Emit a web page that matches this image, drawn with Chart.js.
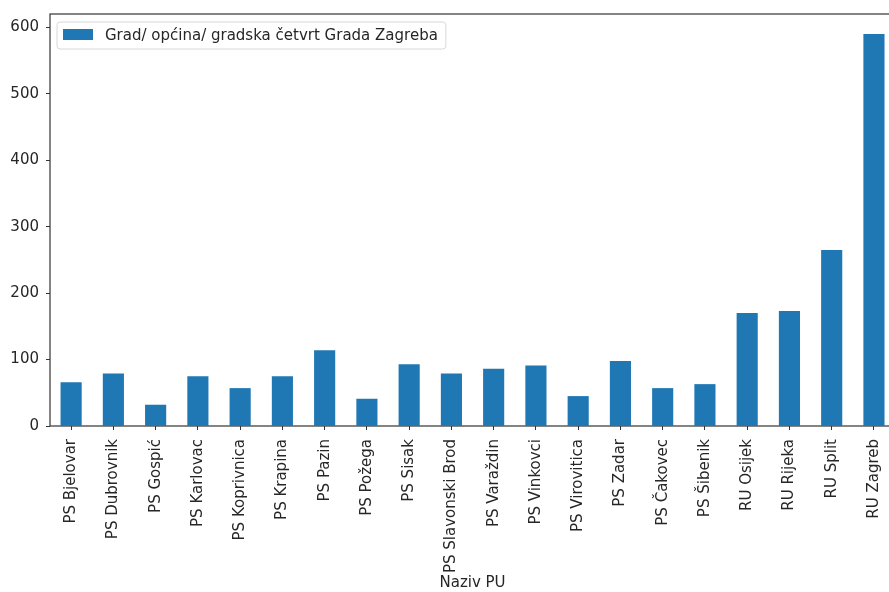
<!DOCTYPE html>
<html>
<head>
<meta charset="utf-8">
<script src="https://cdn.jsdelivr.net/npm/chart.js@4.4.1/dist/chart.umd.min.js"></script>
<style>
  html, body { margin: 0; padding: 0; background: #fff; overflow: hidden; }
  #wrap { width: 901px; height: 592px; }
</style>
</head>
<body>
<div id="wrap"><canvas id="chart"></canvas></div>
<script>
const categories = [
  'PS Bjelovar', 'PS Dubrovnik', 'PS Gospić', 'PS Karlovac', 'PS Koprivnica',
  'PS Krapina', 'PS Pazin', 'PS Požega', 'PS Sisak', 'PS Slavonski Brod',
  'PS Varaždin', 'PS Vinkovci', 'PS Virovitica', 'PS Zadar', 'PS Čakovec',
  'PS Šibenik', 'RU Osijek', 'RU Rijeka', 'RU Split', 'RU Zagreb'
];
const values = [66, 79, 32, 75, 57, 75, 114, 41, 93, 79, 86, 91, 45, 98, 57, 63, 170, 173, 265, 590];
const seriesLabel = 'Grad/ općina/ gradska četvrt Grada Zagreba';
const yTicks = [0, 100, 200, 300, 400, 500, 600];
const xTitle = 'Naziv PU';

const BLUE = '#1f77b4';
const INK = '#262626';
const FONT = "'DejaVu Sans', sans-serif";

// spines on all four sides plus a matplotlib-like legend box
const framePlugin = {
  id: 'frame',
  afterDraw(chart) {
    const { ctx, chartArea: a } = chart;
    ctx.save();
    ctx.strokeStyle = '#333';
    ctx.lineWidth = 1.2;
    ctx.strokeRect(a.left, a.top, a.right - a.left, a.bottom - a.top);

    ctx.font = '15px ' + FONT;
    const label = chart.data.datasets[0].label;
    const tw = ctx.measureText(label).width;
    const bx = a.left + 7, by = a.top + 8, bh = 27;
    const bw = tw + 56;
    ctx.fillStyle = 'rgba(255,255,255,0.8)';
    ctx.strokeStyle = '#d8d8d8';
    ctx.lineWidth = 1;
    ctx.beginPath();
    ctx.roundRect(bx, by, bw, bh, 3);
    ctx.fill();
    ctx.stroke();
    ctx.fillStyle = BLUE;
    ctx.fillRect(bx + 6, by + 7, 30, 11);
    ctx.fillStyle = INK;
    ctx.textBaseline = 'middle';
    ctx.fillText(label, bx + 48, by + bh / 2 + 0.5);
    ctx.restore();
  }
};

new Chart(document.getElementById('chart'), {
  type: 'bar',
  data: {
    labels: categories,
    datasets: [{
      label: seriesLabel,
      data: values,
      backgroundColor: BLUE,
      borderWidth: 0,
      barPercentage: 0.5,
      categoryPercentage: 1.0
    }]
  },
  options: {
    responsive: true,
    maintainAspectRatio: false,
    animation: false,
    devicePixelRatio: 1,
    layout: { padding: { top: 14, right: 2, left: 0, bottom: 0 } },
    plugins: { legend: { display: false }, tooltip: { enabled: false } },
    scales: {
      x: {
        offset: true,
        grid: { display: true, drawOnChartArea: false, drawTicks: true, tickLength: 4, color: '#333', offset: false },
        border: { display: false },
        ticks: {
          color: INK, font: { family: FONT, size: 15 },
          minRotation: 90, maxRotation: 90, autoSkip: false, padding: 9
        },
        title: {
          display: true, text: xTitle, color: INK,
          font: { family: FONT, size: 15 },
          padding: { top: 0, bottom: 0 }
        },
        afterFit(scale) { scale.height = 166; }
      },
      y: {
        min: 0,
        max: 620,
        grid: { display: true, drawOnChartArea: false, drawTicks: true, tickLength: 4, color: '#333' },
        border: { display: false },
        ticks: { color: INK, font: { family: FONT, size: 15 }, padding: 7 },
        afterBuildTicks(scale) { scale.ticks = yTicks.map(v => ({ value: v })); },
        afterFit(scale) {
          scale.width = 50;
          scale.paddingTop = 0;
          scale.paddingBottom = 0;
        }
      }
    }
  },
  plugins: [framePlugin]
});
</script>
</body>
</html>
